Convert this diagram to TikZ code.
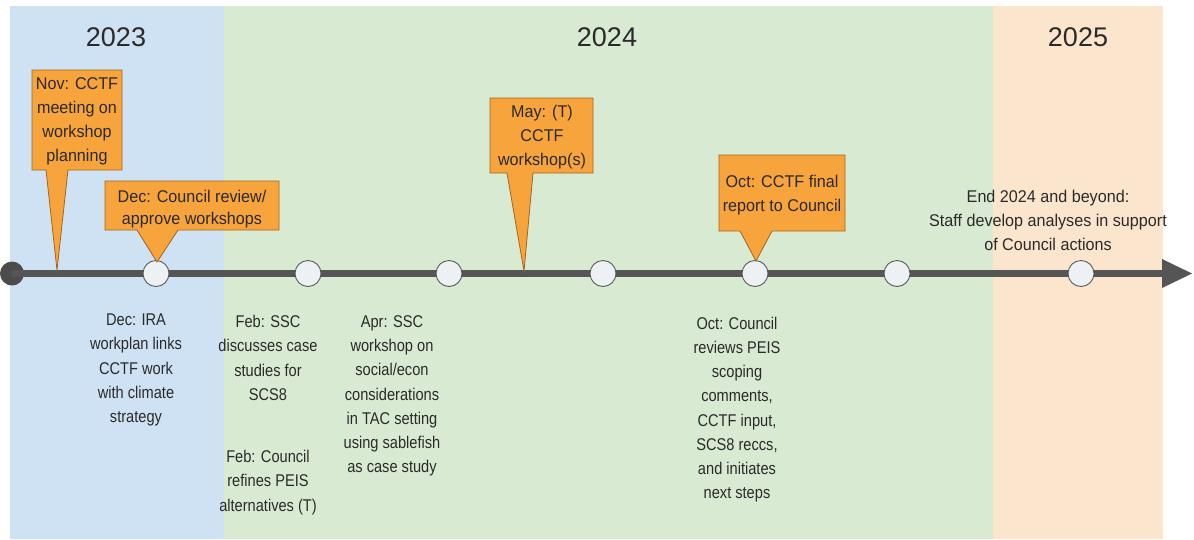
\documentclass[tikz,border=0pt]{standalone}
\usepackage{fontspec}
\setmainfont{Liberation Sans}
\definecolor{blueband}{HTML}{CFE2F3}
\definecolor{greenband}{HTML}{D9EAD3}
\definecolor{orangeband}{HTML}{FCE5CD}
\definecolor{calloutfill}{HTML}{F8A43C}
\definecolor{calloutedge}{HTML}{A0661E}
\definecolor{lineclr}{HTML}{555555}
\definecolor{dotfill}{HTML}{EEF1F4}
\definecolor{txt}{HTML}{2A2A2A}
\begin{document}
\begin{tikzpicture}[x=1pt,y=-1pt,
  year/.style={font=\fontsize{27}{30}\selectfont, text=txt, inner sep=0pt},
  calltext/.style={font=\fontsize{17}{24}\selectfont, text=txt, align=center, inner sep=0pt, xscale=0.95},
  lowtext/.style={font=\fontsize{17}{24.2}\selectfont, text=txt, align=center, inner sep=0pt, xscale=0.86},
  callout/.style={fill=calloutfill, draw=calloutedge, line width=0.8pt, line join=miter},
  event/.style={circle, minimum size=26pt, inner sep=0pt, fill=dotfill, draw=gray!70!black, line width=0.9pt}
]
\useasboundingbox (0,0) rectangle (1194,539);
\fill[white] (0,0) rectangle (1194,539);
% bands
\fill[blueband] (10,6) rectangle (224,539);
\fill[greenband] (224,6) rectangle (993,539);
\fill[orangeband] (993,6) rectangle (1163,539);
% years
\node[year] (y2023) at (116,37) {2023};
\node[year] (y2024) at (607,37) {2024};
\node[year] (y2025) at (1078,37) {2025};
% timeline
\node[circle, minimum size=24pt, inner sep=0pt, fill=lineclr!90!black] (start) at (12,273.5) {};
\coordinate (lineend) at (1164,273.5);
\draw[lineclr, line width=7pt] (start.center) -- (lineend);
\fill[lineclr] (1162,259) -- (1192,273.5) -- (1162,288) -- cycle;
% event circles
\node[event] (e1) at (156,273.5) {};
\node[event] (e2) at (308,273.5) {};
\node[event] (e3) at (449,273.5) {};
\node[event] (e4) at (603,273.5) {};
\node[event] (e5) at (755,273.5) {};
\node[event] (e6) at (897,273.5) {};
\node[event] (e7) at (1081,273.5) {};
% callouts
\draw[callout] (32,70) -- (122,70) -- (122,170) -- (68,170) -- (57,270) -- (46,170) -- (32,170) -- cycle;
\node[calltext] (nov) at (77,121.5) {Nov: CCTF\\meeting on\\workshop\\planning};
\draw[callout] (105,181) -- (279,181) -- (279,230) -- (178,230) -- (157,262) -- (137,230) -- (105,230) -- cycle;
\node[calltext, font=\fontsize{17}{22}\selectfont] (dec) at (192,209.5) {Dec: Council review/\\approve workshops};
\draw[callout] (490,98) -- (593,98) -- (593,173) -- (533,173) -- (524,271) -- (507,173) -- (490,173) -- cycle;
\node[calltext] (may) at (542,137.5) {May: (T)\\CCTF\\workshop(s)};
\draw[callout] (719,155) -- (845,155) -- (845,231) -- (772,231) -- (756,261) -- (740,231) -- (719,231) -- cycle;
\node[calltext] (oct) at (782,195) {Oct: CCTF final\\report to Council};
% upper right text
\node[calltext] (end) at (1048,220) {End 2024 and beyond:\\Staff develop analyses in support\\of Council actions};
% lower texts
\node[lowtext] (ira) at (136,370) {Dec: IRA\\workplan links\\CCTF work\\with climate\\strategy};
\node[lowtext] (febssc) at (268,358) {Feb: SSC\\discusses case\\studies for\\SCS8};
\node[lowtext] (febcouncil) at (268,482.5) {Feb: Council\\refines PEIS\\alternatives (T)};
\node[lowtext] (apr) at (392,396) {Apr: SSC\\workshop on\\social/econ\\considerations\\in TAC setting\\using sablefish\\as case study};
\node[lowtext] (octc) at (737,409.5) {Oct: Council\\reviews PEIS\\scoping\\comments,\\CCTF input,\\SCS8 reccs,\\and initiates\\next steps};
\end{tikzpicture}
\end{document}
